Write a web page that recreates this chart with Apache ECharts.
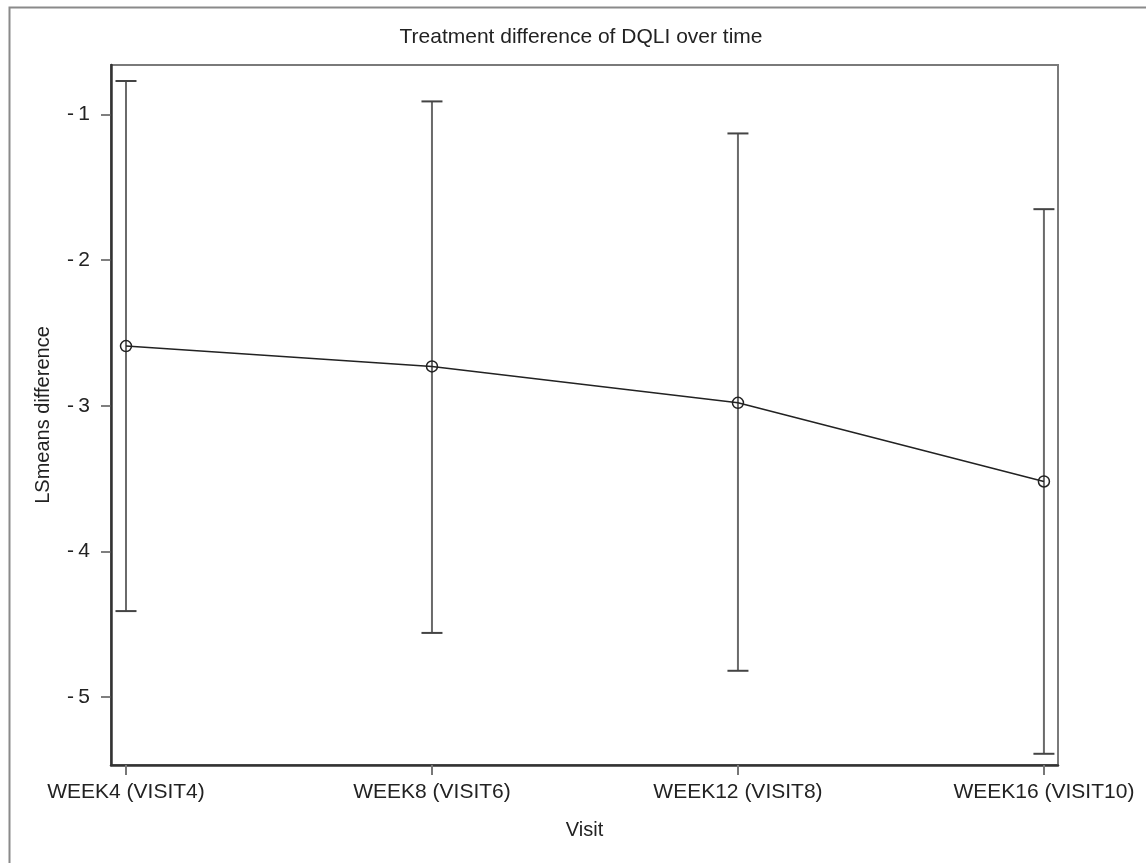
<!DOCTYPE html>
<html>
<head>
<meta charset="utf-8">
<script src="https://cdn.jsdelivr.net/npm/echarts@6/dist/echarts.min.js"></script>
<style>
html, body { margin: 0; padding: 0; background: #fff; }
#chart { width: 1146px; height: 863px; }
</style>
</head>
<body>
<div id="chart"></div>
<script>
// Visits on the x axis
const visits = ['WEEK4 (VISIT4)', 'WEEK8 (VISIT6)', 'WEEK12 (VISIT8)', 'WEEK16 (VISIT10)'];
// LS mean treatment difference and its confidence limits per visit
const lsMeanDiff = [-2.59, -2.73, -2.98, -3.52];
const lowerCL = [-4.41, -4.56, -4.82, -5.39];
const upperCL = [-0.77, -0.91, -1.13, -1.65];
// Y axis tick values
const yTicks = [-5, -4, -3, -2, -1];

const FONT = 'Liberation Sans, Arial, sans-serif';
const TEXT = '#222';

const idx = visits.map((_, i) => i);
const meanData = idx.map(i => [i, lsMeanDiff[i]]);
const ciData = idx.map(i => [i, lowerCL[i], upperCL[i]]);

const chart = echarts.init(document.getElementById('chart'), null, { renderer: 'canvas' });

chart.setOption({
  backgroundColor: '#fff',
  animation: false,
  title: {
    text: 'Treatment difference of DQLI over time',
    left: 576, top: 22, textAlign: 'center',
    textStyle: { fontFamily: FONT, fontSize: 21, fontWeight: 'normal', color: TEXT }
  },
  graphic: [{
    type: 'rect', silent: true, z: -1,
    shape: { x: 9.5, y: 7.5, width: 1300, height: 1000 },
    style: { fill: 'none', stroke: '#8a8a8a', lineWidth: 2 }
  }],
  grid: {
    left: 111, right: 88, top: 65, bottom: 98,
    show: true, borderColor: '#7a7a7a', borderWidth: 2, backgroundColor: 'transparent'
  },
  xAxis: {
    type: 'value',
    min: -0.049, max: 3.046,
    name: 'Visit', nameLocation: 'middle', nameGap: 55,
    nameTextStyle: { fontFamily: FONT, fontSize: 20, color: TEXT },
    axisLine: { show: true, onZero: false, lineStyle: { color: '#333', width: 2.5 } },
    axisTick: { show: true, length: 10, customValues: idx, lineStyle: { color: '#777', width: 2 } },
    axisLabel: {
      customValues: idx, margin: 17,
      fontFamily: FONT, fontSize: 21, color: TEXT,
      formatter: v => visits[Math.round(v)]
    },
    splitLine: { show: false }
  },
  yAxis: {
    type: 'value',
    min: -5.467, max: -0.66,
    name: 'LSmeans difference', nameLocation: 'middle', nameGap: 58, nameRotate: 90,
    nameTextStyle: { fontFamily: FONT, fontSize: 20, color: TEXT },
    axisLine: { show: true, onZero: false, lineStyle: { color: '#333', width: 2.5 } },
    axisTick: { show: true, length: 10, customValues: yTicks, lineStyle: { color: '#555', width: 1.5 } },
    axisLabel: {
      customValues: yTicks, margin: 21,
      fontFamily: FONT, fontSize: 21, color: TEXT,
      formatter: v => (v < 0 ? '-\u2009' : '') + Math.abs(v)
    },
    splitLine: { show: false }
  },
  series: [
    {
      // confidence interval bars with end caps
      type: 'custom',
      z: 2,
      data: ciData,
      encode: { x: 0, y: [1, 2] },
      renderItem: (params, api) => {
        const x = api.value(0);
        const lo = api.coord([x, api.value(1)]);
        const hi = api.coord([x, api.value(2)]);
        const hw = 10.5;
        return {
          type: 'group',
          children: [
            { type: 'line', shape: { x1: lo[0], y1: lo[1], x2: hi[0], y2: hi[1] },
              style: { stroke: '#6a6a6a', lineWidth: 2 } },
            { type: 'line', shape: { x1: lo[0] - hw, y1: lo[1], x2: lo[0] + hw, y2: lo[1] },
              style: { stroke: '#444', lineWidth: 2 } },
            { type: 'line', shape: { x1: hi[0] - hw, y1: hi[1], x2: hi[0] + hw, y2: hi[1] },
              style: { stroke: '#444', lineWidth: 2 } }
          ]
        };
      }
    },
    {
      // LS mean difference line with open circle markers
      type: 'line',
      z: 3,
      data: meanData,
      symbol: 'circle',
      symbolSize: 11,
      lineStyle: { color: '#222', width: 1.5 },
      itemStyle: { color: 'rgba(255,255,255,0)', borderColor: '#222', borderWidth: 1.5 }
    }
  ]
});
</script>
</body>
</html>
